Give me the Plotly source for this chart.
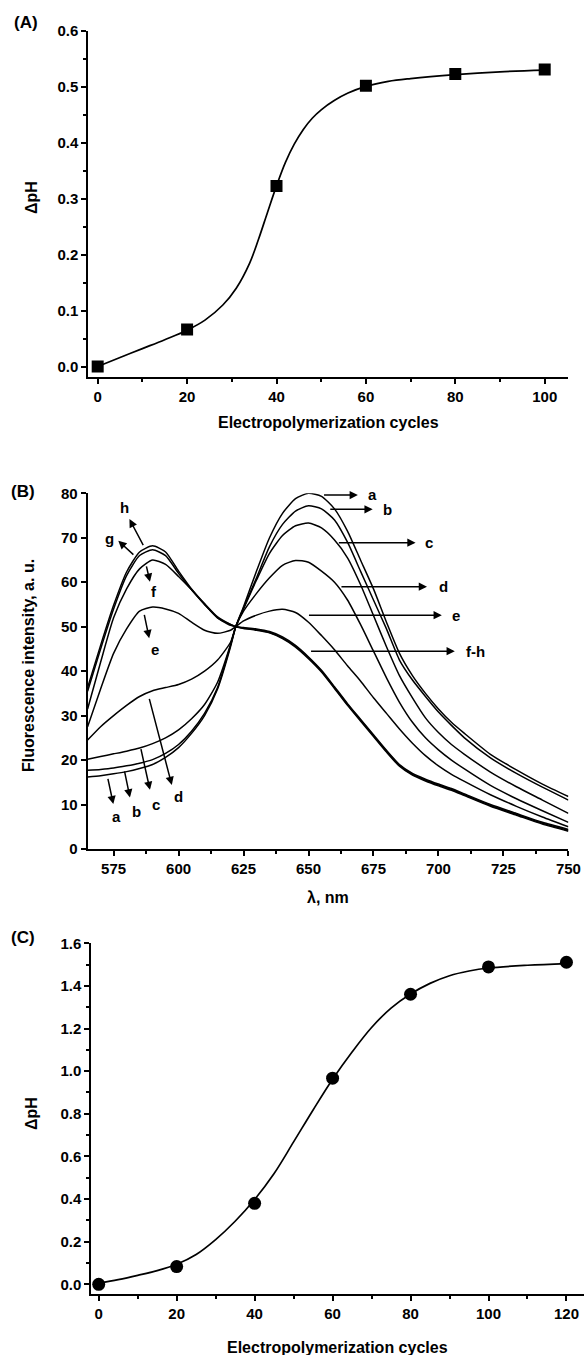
import plotly.graph_objects as go

W, H = 584, 1355
FONT = "Liberation Sans, Arial, sans-serif"

# ---------------- Panel A data ----------------
cyclesA = [0, 20, 40, 60, 80, 100]
dpHA = [0.0, 0.066, 0.323, 0.502, 0.523, 0.531]
fitA_x = [0, 5, 10, 15, 20, 24, 28, 31, 34, 36, 38, 40, 42, 44, 46, 48, 50, 53, 56, 60, 65, 70, 80, 90, 100]
fitA_y = [0.0, 0.016, 0.032, 0.048, 0.065, 0.083, 0.110, 0.140, 0.185, 0.228, 0.276, 0.323, 0.365,
          0.398, 0.424, 0.444, 0.459, 0.476, 0.489, 0.501, 0.510, 0.515, 0.522, 0.527, 0.530]

# ---------------- Panel B data ----------------
wavelength = [565, 570, 575, 580, 585, 590, 595, 600, 605, 610, 615, 620, 622, 625, 630, 635, 640,
              645, 650, 655, 660, 665, 670, 675, 680, 685, 690, 695, 700, 705, 710, 720, 730, 740, 750]
spec_a = [16.2, 16.5, 16.9, 17.4, 18.1, 19.0, 20.6, 22.8, 26.0, 30.0, 36.0, 45.5, 50.0, 54.5, 62.5,
          70.0, 75.5, 78.8, 80.0, 79.3, 76.5, 71.5, 65.0, 58.5, 51.0, 44.0, 39.0, 35.0, 31.5, 28.5,
          26.0, 21.3, 17.8, 14.6, 11.8]
spec_b = [17.7, 17.9, 18.2, 18.7, 19.3, 20.1, 21.5, 23.5, 26.5, 30.5, 36.3, 45.8, 50.0, 54.2, 61.0,
          68.0, 73.0, 76.0, 77.2, 76.5, 74.0, 69.0, 62.5, 56.0, 49.5, 42.5, 38.0, 34.3, 30.8, 27.8,
          25.0, 20.5, 17.0, 13.9, 11.0]
spec_c = [20.2, 20.8, 21.4, 22.0, 22.7, 23.7, 25.0, 26.8, 29.3, 32.5, 37.5, 46.0, 50.0, 54.0, 60.5,
          66.5, 70.5, 72.7, 73.3, 72.2, 69.5, 65.5, 59.5, 52.5, 45.5, 39.0, 34.0, 29.5, 26.2, 23.5,
          21.3, 17.3, 14.0, 11.0, 8.0]
spec_d = [24.5, 27.5, 30.0, 32.3, 34.3, 35.6, 36.3, 37.0, 38.2, 40.0, 42.5, 46.5, 50.0, 53.5, 57.5,
          61.0, 63.8, 64.9, 64.5, 62.5, 60.0, 56.0, 50.5, 44.5, 38.5, 33.0, 28.5, 25.0, 22.3, 20.0,
          18.0, 14.3, 11.3, 8.6, 6.0]
spec_e = [27.5, 36.0, 44.0, 49.5, 53.5, 54.4, 54.0, 53.0, 51.0, 49.2, 48.5, 49.2, 50.0, 51.3, 52.6,
          53.5, 53.9, 53.2, 51.0, 48.0, 44.8, 41.2, 37.8, 34.0, 30.5, 27.0, 23.8, 21.0, 18.7, 16.8,
          15.2, 12.2, 9.6, 7.2, 5.0]
spec_f = [31.5, 42.0, 52.0, 58.5, 63.0, 65.0, 64.0, 61.3, 58.3, 55.0, 52.0, 50.3, 50.0, 49.7, 49.3,
          48.7, 47.5, 45.6, 43.0, 40.0, 36.3, 32.5, 29.0, 25.5, 22.0, 18.8, 16.8, 15.5, 14.4, 13.4,
          12.2, 9.8, 7.8, 5.8, 4.2]
spec_g = [35.5, 45.0, 54.0, 61.5, 66.0, 67.3, 66.0, 62.0, 58.3, 55.0, 52.0, 50.5, 50.0, 49.8, 49.5,
          48.9, 47.7, 45.8, 43.2, 40.2, 36.5, 32.7, 29.2, 25.7, 22.2, 19.0, 17.0, 15.7, 14.6, 13.6,
          12.4, 10.0, 8.0, 6.0, 4.4]
spec_h = [36.3, 45.8, 54.8, 62.3, 66.8, 68.2, 66.8, 62.5, 58.5, 55.2, 52.2, 50.5, 50.0, 49.6, 49.2,
          48.6, 47.3, 45.4, 42.8, 39.8, 36.1, 32.3, 28.8, 25.3, 21.8, 18.6, 16.6, 15.3, 14.2, 13.2,
          12.0, 9.6, 7.6, 5.6, 4.0]
spectra = [spec_a, spec_b, spec_c, spec_d, spec_e, spec_f, spec_g, spec_h]

# ---------------- Panel C data ----------------
cyclesC = [0, 20, 40, 60, 80, 100, 120]
dpHC = [0.0, 0.083, 0.38, 0.967, 1.361, 1.489, 1.511]
fitC_x = [0, 5, 10, 15, 20, 25, 30, 35, 40, 45, 50, 55, 60, 65, 70, 75, 80, 85, 90, 95, 100, 110, 120]
fitC_y = [0.005, 0.022, 0.042, 0.064, 0.094, 0.140, 0.210, 0.296, 0.398, 0.520, 0.668, 0.818, 0.962,
          1.090, 1.205, 1.296, 1.362, 1.412, 1.448, 1.470, 1.484, 1.497, 1.505]


def fx(p):
    return p / W


def fy(p):
    return 1 - p / H


fig = go.Figure()

# Panel A
fig.add_trace(go.Scatter(x=fitA_x, y=fitA_y, mode="lines",
                         line=dict(color="black", width=1.7, shape="spline", smoothing=1.0),
                         xaxis="x", yaxis="y", showlegend=False, hoverinfo="skip"))
fig.add_trace(go.Scatter(x=cyclesA, y=dpHA, mode="markers", marker=dict(symbol="square", size=12, color="black"),
                         xaxis="x", yaxis="y", showlegend=False))

# Panel B
for s in spectra:
    fig.add_trace(go.Scatter(x=wavelength, y=s, mode="lines",
                             line=dict(color="black", width=1.5, shape="spline", smoothing=0.6),
                             xaxis="x2", yaxis="y2", showlegend=False))

# Panel C
fig.add_trace(go.Scatter(x=fitC_x, y=fitC_y, mode="lines",
                         line=dict(color="black", width=1.7, shape="spline", smoothing=1.0),
                         xaxis="x3", yaxis="y3", showlegend=False, hoverinfo="skip"))
fig.add_trace(go.Scatter(x=cyclesC, y=dpHC, mode="markers", marker=dict(symbol="circle", size=13, color="black"),
                         xaxis="x3", yaxis="y3", showlegend=False))

tickfont = dict(family=FONT, size=15, color="black", weight="bold")


def axis(**kw):
    d = dict(showline=True, linecolor="black", linewidth=2, ticks="outside", ticklen=5, tickwidth=2,
             tickcolor="black", showgrid=False, zeroline=False, tickfont=tickfont, automargin=False,
             fixedrange=True, mirror=False)
    d.update(kw)
    return d


def minor(dt):
    return dict(ticks="outside", ticklen=3, tickwidth=1.5, tickcolor="black", dtick=dt, tick0=0, showgrid=False)


fig.update_layout(
    width=W, height=H, margin=dict(l=0, r=0, t=0, b=0),
    paper_bgcolor="white", plot_bgcolor="white", template="none",
    xaxis=axis(domain=[fx(88.3), fx(568.4)], range=[-2.1, 105.3], dtick=20, tick0=0, minor=minor(10), anchor="y"),
    yaxis=axis(domain=[fy(377.3), fy(31)], range=[-0.0193, 0.6], dtick=0.1, tick0=0, tickformat=".1f",
               minor=minor(0.05), anchor="x"),
    xaxis2=axis(domain=[fx(87.6), fx(568.4)], range=[565, 750], dtick=25, tick0=0, minor=minor(12.5), anchor="y2"),
    yaxis2=axis(domain=[fy(849), fy(493.3)], range=[0, 80], dtick=10, tick0=0, anchor="x2"),
    xaxis3=axis(domain=[fx(91.3), 1.0], range=[-1.9, 124.5], dtick=20, tick0=0, minor=minor(10), anchor="y3"),
    yaxis3=axis(domain=[fy(1294), fy(943.3)], range=[-0.0455, 1.6], dtick=0.2, tick0=0, tickformat=".1f",
                minor=minor(0.1), anchor="x3"),
)

ann = []
TF = dict(family=FONT, size=16, color="black", weight="bold")
PF = dict(family=FONT, size=17, color="black", weight="bold")
LF = dict(family=FONT, size=15, color="black", weight="bold")


def ptext(text, x, y, angle=0, font=TF, xanchor="center"):
    ann.append(dict(text=text, x=fx(x), y=fy(y), xref="paper", yref="paper", showarrow=False,
                    textangle=angle, font=font, xanchor=xanchor, yanchor="middle"))


# panel labels and axis titles
ptext("(A)", 26, 23, font=PF)
ptext("(B)", 23, 492, font=PF)
ptext("(C)", 23, 938, font=PF)
ptext("ΔpH", 31, 198, angle=-90)
ptext("Fluorescence intensity, a. u.", 28, 666, angle=-90)
ptext("ΔpH", 31, 1114, angle=-90)
ptext("Electropolymerization cycles", 328, 422)
ptext("λ, nm", 328, 897)
ptext("Electropolymerization cycles", 337, 1347)

# Panel B arrows: (tail_x, tail_y, head_x, head_y)
arrows_B = [
    (655.4, 79.6, 669.0, 79.6), (657.8, 76.4, 674.7, 76.4), (661.1, 68.9, 691.2, 68.9),
    (662.1, 59.0, 695.6, 59.0), (649.6, 52.6, 701.3, 52.6), (650.4, 44.5, 706.3, 44.5),
    (586.7, 68.0, 581.1, 74.2), (583.2, 65.9, 576.8, 69.3), (587.5, 63.9, 589.0, 60.1),
    (586.7, 53.0, 588.7, 47.4),
    (572.7, 16.1, 574.9, 10.1), (579.1, 17.8, 581.3, 11.6), (585.4, 22.8, 589.0, 13.3),
    (588.6, 34.1, 597.4, 14.4),
]
for tx, ty, hx, hy in arrows_B:
    ann.append(dict(x=hx, y=hy, ax=tx, ay=ty, xref="x2", yref="y2", axref="x2", ayref="y2", text="",
                    showarrow=True, arrowhead=2, arrowsize=1.1, arrowwidth=1.5, arrowcolor="black"))

labels_B_right = [("a", 672.3, 79.8), ("b", 677.9, 76.4), ("c", 694.1, 68.9), ("d", 699.4, 59.0),
                  ("e", 704.5, 52.6), ("f-h", 709.9, 44.5)]
for t, x, y in labels_B_right:
    ann.append(dict(text=t, x=x, y=y, xref="x2", yref="y2", showarrow=False, font=LF,
                    xanchor="left", yanchor="middle"))

labels_B_center = [("h", 579.3, 76.8), ("g", 573.6, 69.9), ("f", 590.4, 58.0), ("e", 590.8, 44.8),
                   ("a", 576.0, 7.3), ("b", 583.7, 8.4), ("c", 591.4, 10.0), ("d", 600.1, 11.7)]
for t, x, y in labels_B_center:
    ann.append(dict(text=t, x=x, y=y, xref="x2", yref="y2", showarrow=False, font=LF,
                    xanchor="center", yanchor="middle"))

fig.update_layout(annotations=ann)
fig.write_html("out.html")
